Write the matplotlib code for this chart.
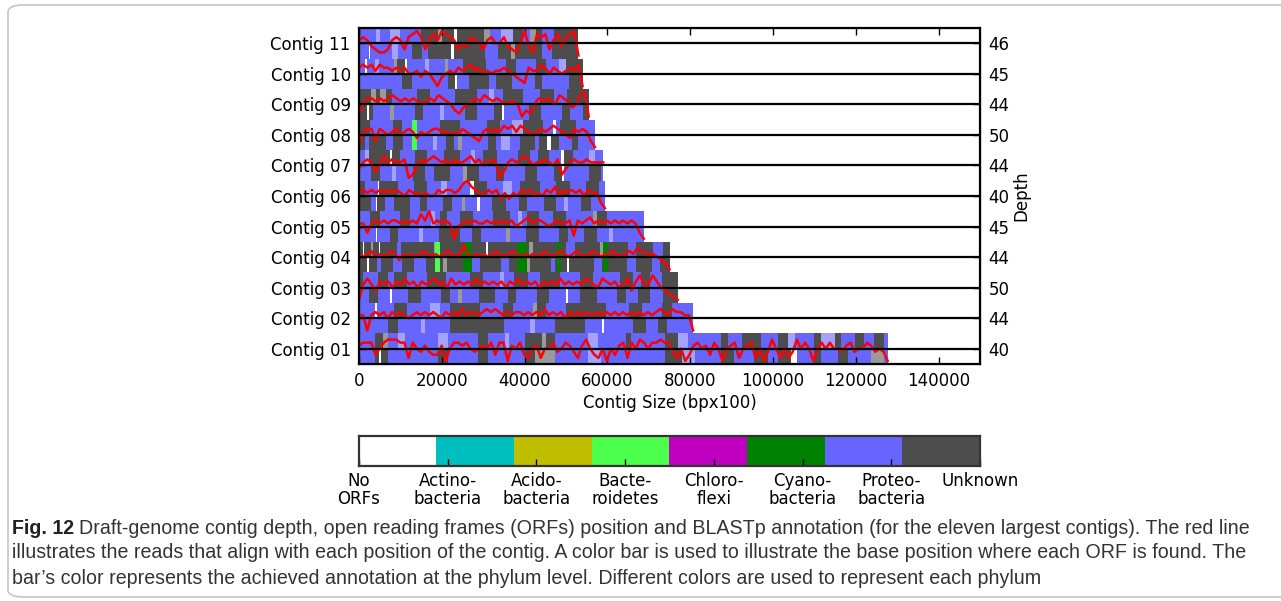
import numpy as np
import matplotlib
matplotlib.use("Agg")
import matplotlib.pyplot as plt
from matplotlib.colors import ListedColormap
from matplotlib.patches import FancyBboxPatch

plt.rcParams.update({"font.family": "DejaVu Sans", "font.size": 12})

# ---- data -------------------------------------------------------------
contigs = [f"Contig {i:02d}" for i in range(1, 12)]
contig_len = [127700, 80700, 77000, 75000, 68800, 59400, 59000, 57000, 55500, 54000, 53000]
depth_mean = [40, 44, 50, 44, 45, 40, 44, 50, 44, 45, 46]

phyla = ["No\nORFs", "Actino-\nbacteria", "Acido-\nbacteria", "Bacte-\nroidetes",
         "Chloro-\nflexi", "Cyano-\nbacteria", "Proteo-\nbacteria", "Unknown"]
phylum_colors = ["#ffffff", "#00bfbf", "#bfbf00", "#4dff4d", "#bf00bf", "#008000", "#6666ff", "#4d4d4d"]

# ORF runs per contig (upper / lower strand): code + length in kbp
# P proteo, U unknown, B bacteroidetes, C cyano, w no ORF, p/u overlapping ORF edges
orf_top = [
    "P3.9 U2 u1.2 P2.4 p1.6 P8 p2.5 P7.2 U2.4 P4 p1 P3.8 U4.1 u1 U2.2 P8 p2.4 P6.9 U1.2 P8.1 U3.2 p2.4 P8 U1.6 P3.3 U4.8 P4 U2.4 p1.6 P4.8 U1.7 p3.2 U1.6 P3.2 U2.4 P2.4 U2.4 P1.2",
    "P3.8 w0.6 P4 U3.2 P5.6 p2.4 P2.4 U7.2 P5.6 U2.4 P4.8 u1 U2.2 P4.8 U9.6 P5.6 U3.2 P4.8 U2.4 P5.1",
    "U1 P3.6 U2.4 P1.5 U3 P5 U4.5 P5.8 U3.2 P4 p1 P2.5 U3.3 P3 U4.8 P4.8 U3.2 P6.4 U3.2 P2 U2 P3 U8",
    "U1 w0.3 U1.5 u0.5 U1.5 w0.3 U4 P1 U8 u0.5 U12 w0.5 U10 u1 U8 P2 U6 u0.8 U6 P2 U4 P2.5 U3",
    "P2.6 U2.4 P4.9 U2.4 P5 p1 P1.3 U1.6 P3.2 U3.2 P4.8 U4 P2 p1 P1.1 U3 P3.4 U3.2 P6.4 u1 U2.5 P9.6",
    "U1.5 P3 w0.4 U4.4 P4 U3.2 P3.2 p1.6 P5.6 w0.8 U3.2 P4 p2 P2 U4.8 P4 U3.2 P4 U3 P2",
    "P1.5 p1 U5 w0.5 U2 P3.5 U3 P4 U4 P2.5 p1 P2 U3.3 P5 U3 P2 U2.5 P3 w0.8 U2 P4 p1.5 P3",
    "U2.6 P5.7 U2 P9.3 U4.8 P6.4 U3.2 P3 p2.7 U4.8 P2.4 w0.8 P0.8 U4 P4.5",
    "U3 u1 U1 u1.5 U1.5 P6 U3.2 P6.1 U5.2 P3 p1 P2.4 U4.8 P4.1 U3.2 P3.2 U5.3",
    "P1.5 w0.4 P2 p1 P3.5 u0.8 U2 w0.4 P4.4 p0.8 P4 u0.8 P3.6 U5.5 P4.8 U2.4 P4.8 U2.4 P3.2 p1.6 U4.1",
    "P4 p1 P2.5 p2.5 P5 U4 u1 U3 w0.6 U6.6 u1.5 P2.5 p3 U2.5 P1.5 u1.5 U1.5 P3 U6",
]
orf_bottom = [
    "P3.9 U1 w0.4 U1.8 P12 U2.5 P7.2 U2.4 P8.8 U2.4 u4.9 P8 p3.2 P15.4 U4 p3.2 P6.4 U3.2 P4.8 U3.2 P2.4 U3.2 w1.6 P4 U1.7 P4 U2.4 P5.6 u3.2 P1.2",
    "P7 U2.4 P5.6 p1 P6 U13 P6.4 p1 P5 U7.2 P4 w0.5 P7 U3.2 P3 U2 P8",
    "P2.5 U2 P3 w0.4 P4 U3 P5 U2 P2 u1 P4 U4 P3 U2 P5 U3 P4 w0.5 P3 U4 P5 U2 P3 U3 P3 U6",
    "U2 w0.3 U2 P1 U3 P2 U3 P3 U4 u1 U6 P2 U5 P2 U4 u1 U5 P1 U3 w0.5 U6 P2 U6 P2 U4 P2 U3 P3",
    "P4 w0.4 P3 U2 P5 p1 P4 U5 P3 U2 P6 u1 P4 U3 P5 U2 P4 U3 P3 p1 P8",
    "U3 P1 w0.4 U2 P2 U4 P2.4 U1.6 P4 U2 P2.4 u0.8 P3 w0.6 P3 U3.2 P3.2 U2 P4 U3 P2 p1 P3 U2.4 P3.4",
    "P3 U2 P3 p1 P4 U3 P2 U4 P3 u1 U3 P4 U2 P5 U3 P4 U2 w0.5 P6 U3 P4",
    "U1.5 P1 U4 P1.8 U2.4 P3.2 P4 p1 P2 U2 P1 u1 P6.3 U2 P1.2 p2 P2.5 U3.5 P1 U2 w1 U2 P3 U1.6 P4",
    "U2 w0.5 U1 P4 u1 P5 U2 P4 p1 P5 U3 P4 U2 w0.5 P6 U3 P5 U2 P3 U1.5",
    "P10.3 U2.4 P8.9 U1.6 w0.4 P3 U4.8 P1.6 U4 P5.6 U1.6 P6.5 U3.3",
    "P2.3 w0.4 P5.2 p1.6 P3.2 U2.4 P1.6 U5.6 w0.6 U7.5 P3.2 U3 u1 U6.5 P2.4 U6.6",
]
# ORFs annotated on both strands: (contig index, start kbp, end kbp, code)
orf_full = [(7, 12.7, 13.9, "B"), (3, 18.4, 19.6, "B"), (3, 25.2, 27.3, "C"),
            (3, 38.2, 40.5, "C"), (3, 47.9, 48.8, "C"), (3, 58.9, 60.1, "C")]

# read depth along each contig (relative level per ~1 kbp, 4 = mean)
depth_trace = [
    "5666246777661643532250466564345462660546214514463465315742140425616476"
    "46676631402564526404561456140374141374640464644356344653430",
    "5505656465654565656546565756656767656566565657565646565655656565656565656765766550",
    "057536564657564656756475656575656564657565646565756565765476564573685 58643210",
    "54564545653545456545456545854545456545654545456545654565456545565456576555 4320",
    "5525656566565658695656504565655656565645675665456556165675656565656520",
    "565656565654655454465665689765465635354656454657465656465520",
    "356524756556014656765646556756456502565676455654613565565555",
    "1566265456456535456655454654325656576757654565676543656520",
    "14665656765656545657654213456576565455402146565476534780",
    "676757665656445354203454656756454556543216557646545657 0",
    "565321125652678625758765243654256446321483176725736780",
]

code_color = {"P": "#6666ff", "p": "#a3a3ff", "U": "#4d4d4d", "u": "#9a9a9a",
              "w": "#ffffff", "B": "#4dff4d", "C": "#008000"}


def runs(spec, length):
    pos = 0.0
    for tok in spec.split():
        w = float(tok[1:]) * 1000
        if pos >= length:
            break
        yield tok[0], pos, min(w, length - pos)
        pos += w


# ---- figure ---------------------------------------------------------------
fig = plt.figure(figsize=(12.81, 6.01), dpi=100)
fig.patches.append(FancyBboxPatch((8 / 1281, 4 / 601), 1.05, 592 / 601,
                                  boxstyle="round,pad=0,rounding_size=0.012",
                                  transform=fig.transFigure, fc="none",
                                  ec="#c9c9c9", lw=1.3))

ax = fig.add_axes([359 / 1281, 237 / 601, 621 / 1281, 336 / 601])
for i, L in enumerate(contig_len):
    for spec, y0 in ((orf_top[i], i), (orf_bottom[i], i - 0.5)):
        segs = {}
        for c, x0, w in runs(spec, L):
            segs.setdefault(c, []).append((x0, w))
        for c, s in segs.items():
            ax.broken_barh(s, (y0, 0.5), facecolors=code_color[c], lw=0, zorder=1)
for i, a, b, c in orf_full:
    ax.broken_barh([(a * 1000, (b - a) * 1000)], (i - 0.5, 1.0),
                   facecolors=code_color[c], lw=0, zorder=1.5)

for i, tr in enumerate(depth_trace):
    d = np.array([int(ch) for ch in tr.replace(" ", "")], dtype=float)
    x = np.linspace(0, contig_len[i], len(d))
    ax.plot(x, i + (d - 4) * 0.1, color="red", lw=1.8, zorder=2)
    ax.axhline(i, color="black", lw=1.6, zorder=3)

ax.set_xlim(0, 150000)
ax.set_ylim(-0.5, 10.5)
ax.set_xticks(np.arange(0, 150000, 20000))
ax.set_yticks(range(len(contigs)))
ax.set_yticklabels(contigs)
ax.tick_params(direction="in", top=True, length=5, width=1, pad=6)
ax.set_xlabel("Contig Size (bpx100)", labelpad=3)
for s in ax.spines.values():
    s.set_linewidth(1.6)

ax2 = ax.twinx()
ax2.set_ylim(ax.get_ylim())
ax2.set_yticks(range(len(contigs)))
ax2.set_yticklabels([str(v) for v in depth_mean])
ax2.tick_params(direction="in", length=5, width=1, pad=6)
ax2.set_ylabel("Depth", labelpad=2)

# phylum colour key
cax = fig.add_axes([359 / 1281, 135 / 601, 621 / 1281, 30 / 601])
cax.imshow(np.arange(len(phyla))[None, :], cmap=ListedColormap(phylum_colors),
           aspect="auto", extent=(0, 1, 0, 1), interpolation="nearest")
cax.set_xticks(np.linspace(0, 1, len(phyla)))
cax.set_xticklabels(phyla, linespacing=1.05)
cax.set_yticks([])
cax.tick_params(direction="in", length=5, width=1, pad=4)
for s in cax.spines.values():
    s.set_linewidth(1.6)
    s.set_color("#333333")

# caption
cap = ["Draft-genome contig depth, open reading frames (ORFs) position and BLASTp annotation (for the eleven largest contigs). The red line",
       "illustrates the reads that align with each position of the contig. A color bar is used to illustrate the base position where each ORF is found. The",
       "bar\u2019s color represents the achieved annotation at the phylum level. Different colors are used to represent each phylum"]
cfont = dict(family="Liberation Sans", fontsize=14.1, color="#333333")
t = fig.text(12 / 1281, 1 - 528 / 601, "Fig. 12", fontweight="bold", va="center",
             family="Liberation Sans", fontsize=14.1, color="#222222")
r = fig.canvas.get_renderer()
bb = t.get_window_extent(r)
fig.text((bb.x1 + 5) / 1281, 1 - 528 / 601, cap[0], va="center", **cfont)
fig.text(12 / 1281, 1 - 553 / 601, cap[1], va="center", **cfont)
fig.text(12 / 1281, 1 - 578 / 601, cap[2], va="center", **cfont)

fig.savefig("out.png", dpi=100)
